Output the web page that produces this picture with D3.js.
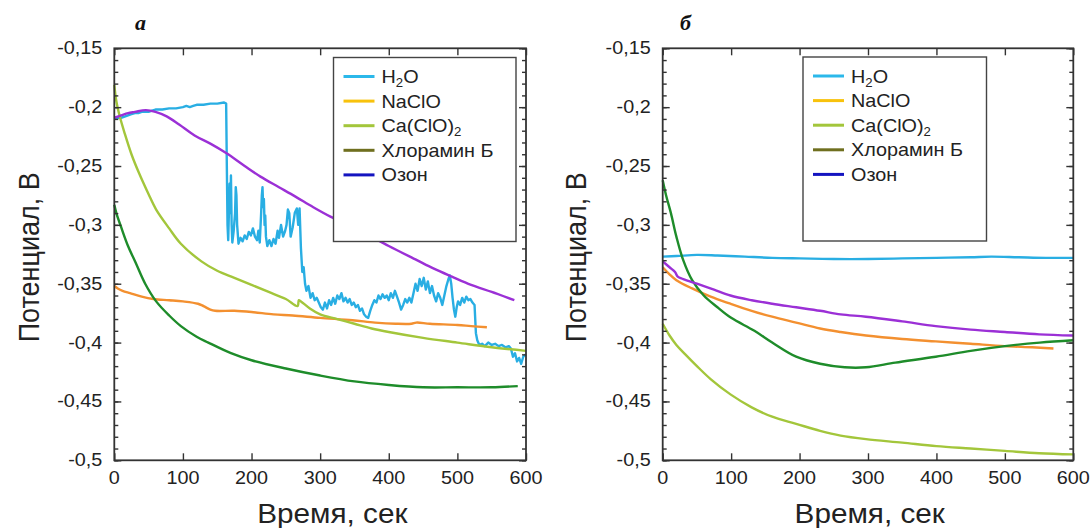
<!DOCTYPE html>
<html>
<head>
<meta charset="utf-8">
<script src="https://cdn.jsdelivr.net/npm/d3@7"></script>
<style>
body { margin: 0; background: #fff; }
text { font-family: "Liberation Sans", Arial, sans-serif; fill: #222; }
</style>
</head>
<body>
<svg id="chart" width="1091" height="528"></svg>
<script>
// axis ticks and labels
const xTicks = [0, 100, 200, 300, 400, 500, 600];
const yTicks = [-0.5, -0.45, -0.4, -0.35, -0.3, -0.25, -0.2, -0.15];
const yTickLabels = ["-0,5", "-0,45", "-0,4", "-0,35", "-0,3", "-0,25", "-0,2", "-0,15"];

// legend
const legendNames = ["H2O", "NaClO", "Ca(ClO)2", "Хлорамин Б", "Озон"];
const legendColors = ["#2bb8ea", "#f8c20c", "#a3c63b", "#6f6f1f", "#1414c0"];
const lineColors = ["#29aee3", "#f39030", "#a3c63b", "#1e8c2a", "#9b30d6"];

// panel a  [time, potential]
const aH2O = [[0,-0.210],[5,-0.209],[10,-0.209],[15,-0.208],[20,-0.207],[25,-0.206],[30,-0.205],[35,-0.205],[40,-0.204],[45,-0.204],[50,-0.204],[55,-0.203],[60,-0.202],[70,-0.202],[80,-0.201],[90,-0.201],[100,-0.200],[105,-0.199],[110,-0.200],[115,-0.199],[120,-0.198],[130,-0.198],[140,-0.197],[150,-0.197],[160,-0.196],[163,-0.197],[164,-0.250],[165,-0.300],[166,-0.313],[167,-0.290],[168,-0.265],[169,-0.290],[170,-0.258],[171,-0.300],[172,-0.315],[174,-0.305],[176,-0.290],[177,-0.268],[178,-0.275],[179,-0.300],[181,-0.316],[184,-0.311],[187,-0.314],[190,-0.309],[193,-0.312],[196,-0.306],[199,-0.309],[202,-0.303],[205,-0.310],[208,-0.313],[210,-0.305],[212,-0.315],[214,-0.290],[215,-0.275],[216,-0.268],[217,-0.285],[218,-0.278],[219,-0.300],[220,-0.292],[221,-0.310],[223,-0.318],[226,-0.313],[229,-0.318],[232,-0.312],[235,-0.316],[238,-0.305],[240,-0.311],[243,-0.300],[246,-0.310],[249,-0.305],[251,-0.300],[253,-0.287],[255,-0.290],[257,-0.310],[260,-0.302],[263,-0.290],[266,-0.286],[268,-0.300],[270,-0.286],[272,-0.320],[274,-0.340],[276,-0.336],[278,-0.350],[280,-0.356],[283,-0.352],[286,-0.362],[289,-0.358],[292,-0.364],[295,-0.362],[298,-0.366],[301,-0.370],[304,-0.372],[307,-0.366],[310,-0.371],[313,-0.364],[316,-0.368],[319,-0.362],[322,-0.367],[325,-0.360],[328,-0.363],[331,-0.358],[334,-0.365],[337,-0.362],[340,-0.366],[343,-0.363],[346,-0.368],[349,-0.366],[352,-0.370],[355,-0.368],[358,-0.373],[361,-0.371],[364,-0.376],[367,-0.378],[370,-0.379],[373,-0.373],[376,-0.368],[379,-0.364],[382,-0.366],[385,-0.360],[388,-0.363],[391,-0.359],[394,-0.362],[397,-0.360],[400,-0.364],[403,-0.358],[406,-0.362],[409,-0.356],[412,-0.361],[415,-0.366],[418,-0.372],[421,-0.368],[424,-0.363],[427,-0.366],[430,-0.362],[433,-0.366],[436,-0.358],[439,-0.350],[442,-0.356],[445,-0.346],[448,-0.352],[451,-0.345],[454,-0.355],[457,-0.348],[460,-0.358],[463,-0.352],[466,-0.360],[469,-0.365],[472,-0.358],[475,-0.362],[478,-0.368],[481,-0.360],[484,-0.352],[487,-0.346],[489,-0.343],[491,-0.350],[493,-0.362],[495,-0.372],[497,-0.378],[499,-0.370],[501,-0.365],[504,-0.368],[507,-0.362],[510,-0.366],[513,-0.361],[516,-0.364],[519,-0.363],[522,-0.366],[525,-0.368],[526,-0.380],[527,-0.392],[529,-0.398],[532,-0.402],[536,-0.401],[540,-0.403],[545,-0.400],[550,-0.402],[555,-0.401],[560,-0.403],[565,-0.402],[570,-0.404],[575,-0.403],[578,-0.405],[581,-0.412],[584,-0.409],[587,-0.416],[590,-0.413],[593,-0.418],[596,-0.412],[600,-0.410]];
const aNaClO = [[0,-0.352],[5,-0.354],[12,-0.356],[23,-0.358],[40,-0.361],[57,-0.363],[80,-0.364],[100,-0.365],[122,-0.367],[130,-0.369],[140,-0.372],[147,-0.373],[175,-0.373],[200,-0.374],[232,-0.376],[260,-0.377],[300,-0.379],[347,-0.381],[380,-0.383],[410,-0.384],[433,-0.384],[440,-0.383],[460,-0.384],[500,-0.385],[520,-0.386],[543,-0.387]];
const aCa = [[0,-0.181],[3,-0.195],[8,-0.208],[15,-0.222],[25,-0.240],[36,-0.256],[50,-0.274],[61,-0.287],[80,-0.303],[97,-0.316],[127,-0.331],[150,-0.339],[175,-0.345],[200,-0.351],[225,-0.357],[250,-0.363],[267,-0.369],[269,-0.364],[272,-0.365],[285,-0.371],[300,-0.376],[325,-0.380],[350,-0.384],[375,-0.388],[400,-0.391],[450,-0.396],[500,-0.400],[550,-0.404],[600,-0.407]];
const aHlor = [[0,-0.283],[3,-0.290],[10,-0.302],[20,-0.318],[31,-0.332],[45,-0.350],[61,-0.365],[80,-0.377],[97,-0.386],[120,-0.395],[137,-0.400],[170,-0.409],[200,-0.415],[250,-0.422],[300,-0.428],[350,-0.433],[400,-0.436],[450,-0.438],[500,-0.438],[550,-0.438],[588,-0.437]];
const aOzon = [[0,-0.209],[10,-0.207],[20,-0.205],[30,-0.204],[46,-0.2025],[60,-0.204],[77,-0.208],[95,-0.215],[117,-0.224],[140,-0.231],[163,-0.239],[190,-0.250],[213,-0.259],[240,-0.268],[264,-0.276],[290,-0.285],[315,-0.293],[340,-0.300],[365,-0.307],[400,-0.318],[441,-0.330],[465,-0.337],[492,-0.344],[520,-0.351],[550,-0.357],[583,-0.364]];

// panel b
const bH2O = [[0,-0.327],[20,-0.3265],[50,-0.3255],[80,-0.326],[120,-0.327],[160,-0.328],[200,-0.3285],[250,-0.329],[300,-0.329],[350,-0.3285],[400,-0.328],[450,-0.3275],[480,-0.327],[520,-0.3275],[560,-0.328],[600,-0.328]];
const bNaClO = [[0,-0.336],[10,-0.342],[20,-0.347],[43,-0.354],[70,-0.361],[99,-0.367],[130,-0.373],[160,-0.378],[195,-0.383],[230,-0.388],[260,-0.391],[297,-0.394],[350,-0.397],[399,-0.399],[450,-0.401],[500,-0.403],[540,-0.404],[571,-0.405]];
const bCa = [[0,-0.384],[10,-0.394],[20,-0.402],[33,-0.410],[50,-0.420],[70,-0.431],[99,-0.444],[130,-0.455],[160,-0.463],[195,-0.469],[230,-0.475],[260,-0.479],[297,-0.482],[350,-0.485],[400,-0.488],[450,-0.490],[500,-0.492],[550,-0.494],[600,-0.495]];
const bHlor = [[0,-0.262],[5,-0.275],[12,-0.290],[20,-0.310],[30,-0.330],[43,-0.347],[60,-0.360],[80,-0.370],[100,-0.379],[134,-0.390],[160,-0.400],[195,-0.412],[230,-0.418],[266,-0.421],[297,-0.421],[340,-0.417],[399,-0.412],[450,-0.407],[500,-0.403],[551,-0.400],[600,-0.398]];
const bOzon = [[0,-0.331],[10,-0.336],[18,-0.340],[22,-0.344],[30,-0.346],[50,-0.350],[75,-0.355],[99,-0.360],[130,-0.364],[160,-0.367],[195,-0.370],[230,-0.373],[260,-0.376],[297,-0.378],[350,-0.382],[399,-0.386],[450,-0.389],[500,-0.391],[550,-0.393],[600,-0.394]];

const svg = d3.select("#chart");
const stretch = 1.1;

function drawPanel(p) {
    const w = p.w, h = p.h;
    const x = d3.scaleLinear().domain([0, 600]).range([0, w]);
    const y = d3.scaleLinear().domain([-0.5, -0.15]).range([h, 0]);
    const g = svg.append("g").attr("transform", `translate(${p.left},${p.top})`);

    const smooth = d3.line().curve(d3.curveCatmullRom.alpha(0.5)).x(d => x(d[0])).y(d => y(d[1]));
    const raw = d3.line().x(d => x(d[0])).y(d => y(d[1]));
    p.series.forEach((s, i) => {
        g.append("path")
            .datum(s)
            .attr("d", s.length > 100 ? raw : smooth)
            .style("fill", "none")
            .style("stroke", lineColors[i])
            .style("stroke-width", 2.4)
            .style("stroke-linejoin", "round");
    });

    // ticks, all pointing inward
    const minor = d3.range(-0.5, -0.1499, 0.01);
    g.append("g").call(d3.axisLeft(y).tickValues(minor).tickSize(-4).tickFormat(""));
    g.append("g").attr("transform", `translate(${w},0)`)
        .call(d3.axisRight(y).tickValues(minor).tickSize(-4).tickFormat(""));
    g.append("g").call(d3.axisLeft(y).tickValues(yTicks).tickSize(-7).tickFormat(""));
    g.append("g").attr("transform", `translate(${w},0)`)
        .call(d3.axisRight(y).tickValues(yTicks).tickSize(-7).tickFormat(""));
    g.append("g").attr("transform", `translate(0,${h})`)
        .call(d3.axisBottom(x).tickValues(xTicks).tickSize(-7).tickFormat(""));
    g.append("g").call(d3.axisTop(x).tickValues(xTicks).tickSize(-7).tickFormat(""));
    g.selectAll(".domain").remove();
    g.selectAll(".tick line").style("stroke", "#333").style("stroke-width", 1.4);

    g.append("rect")
        .attr("width", w).attr("height", h)
        .style("fill", "none")
        .style("stroke", "#333")
        .style("stroke-width", 1.8);

    // tick labels
    yTicks.forEach((t, i) => {
        g.append("text")
            .attr("transform", `translate(-12,${y(t) + 6}) scale(${stretch},1)`)
            .attr("text-anchor", "end")
            .style("font-size", "18px")
            .text(yTickLabels[i]);
    });
    xTicks.forEach(t => {
        g.append("text")
            .attr("transform", `translate(${x(t)},${h + 24}) scale(${stretch},1)`)
            .attr("text-anchor", "middle")
            .style("font-size", "18px")
            .text(t);
    });

    // axis titles
    g.append("text")
        .attr("transform", `translate(${p.xTitleX},${h + 63}) scale(${stretch},1)`)
        .attr("text-anchor", "middle")
        .style("font-size", "27px")
        .text("Время, сек");
    g.append("text")
        .attr("transform", `translate(${p.yTitleX},${h / 2 + 3}) scale(${stretch},1) rotate(-90)`)
        .attr("text-anchor", "middle")
        .style("font-size", "27px")
        .text("Потенциал, В");

    svg.append("text")
        .attr("x", p.labelX).attr("y", 30)
        .style("font-family", "'Liberation Serif', serif")
        .style("font-style", "italic")
        .style("font-weight", "bold")
        .style("font-size", "22px")
        .style("fill", "#111")
        .text(p.label);

    // legend
    const lg = svg.append("g").attr("transform", `translate(${p.legend[0]},${p.legend[1]})`);
    lg.append("rect")
        .attr("width", p.legend[2]).attr("height", p.legend[3])
        .style("fill", "#fff")
        .style("stroke", "#444")
        .style("stroke-width", 1.4);
    legendNames.forEach((name, i) => {
        const ry = 19 + i * 24.6;
        lg.append("line")
            .attr("x1", 10).attr("x2", 41)
            .attr("y1", ry).attr("y2", ry)
            .style("stroke", legendColors[i])
            .style("stroke-width", 3);
        const t = lg.append("text")
            .attr("transform", `translate(48,${ry + 6.5}) scale(${stretch},1)`)
            .style("font-size", "18px");
        const m = name.match(/^(.*?)2$/);
        if (name === "H2O") {
            t.append("tspan").text("H");
            t.append("tspan").text("2").style("font-size", "12px").attr("dy", 4);
            t.append("tspan").text("O").attr("dy", -4);
        } else if (m) {
            t.append("tspan").text(m[1]);
            t.append("tspan").text("2").style("font-size", "12px").attr("dy", 4);
        } else {
            t.text(name);
        }
    });
}

drawPanel({
    left: 114.3, top: 48.3, w: 411.7, h: 412, label: "a", labelX: 135,
    xTitleX: 218, yTitleX: -75,
    legend: [333.5, 57.5, 182.5, 184],
    series: [aH2O, aNaClO, aCa, aHlor, aOzon]
});
drawPanel({
    left: 662.7, top: 48.3, w: 410.6, h: 412, label: "б", labelX: 680,
    xTitleX: 207, yTitleX: -77,
    legend: [803, 57, 183.5, 184],
    series: [bH2O, bNaClO, bCa, bHlor, bOzon]
});
</script>
</body>
</html>
